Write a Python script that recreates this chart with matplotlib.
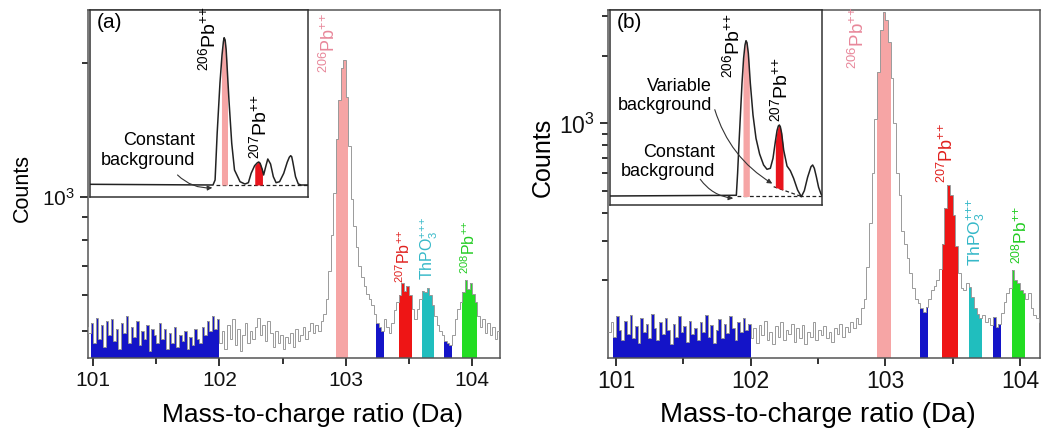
import numpy as np
import matplotlib
matplotlib.use("Agg")
import matplotlib.pyplot as plt
from matplotlib.ticker import FixedLocator, NullFormatter, FixedFormatter

plt.rcParams['font.family'] = ['Liberation Sans', 'DejaVu Sans']
plt.rcParams['mathtext.fontset'] = 'custom'
plt.rcParams['mathtext.rm'] = 'Liberation Sans'
plt.rcParams['mathtext.it'] = 'Liberation Sans:italic'
plt.rcParams['mathtext.bf'] = 'Liberation Sans:bold'

# ---------------- data ----------------
BIN_START = 100.94
BIN_WIDTH = 0.02

counts_a = [
    510, 495, 520, 470, 535, 480, 515, 460, 525, 490,
    530, 475, 505, 455, 520, 495, 540, 470, 510, 485,
    525, 465, 500, 480, 515, 450, 505, 490, 470, 520,
    480, 505, 455, 495, 470, 510, 460, 490, 475, 500,
    455, 485, 465, 505, 480, 470, 510, 490, 525, 500,
    540, 505, 530, 470, 500, 455, 515, 480, 530, 465,
    505, 450, 490, 520, 470, 500, 480, 510, 535, 490,
    515, 475, 525, 495, 460, 500, 470, 490, 455, 485,
    470, 495, 460, 505, 475, 490, 510, 480, 500, 520,
    495, 515, 500, 525, 545, 590, 680, 820, 1020, 1350,
    1650, 1950, 2030, 1680, 1300, 990, 860, 770, 700, 660,
    630, 605, 590, 570, 545, 520, 510, 500, 530, 510,
    495, 520, 555, 580, 600, 640, 615, 630, 600, 560,
    530, 560, 590, 615, 610, 625, 600, 570, 540, 515,
    500, 490, 475, 470, 465, 490, 530, 560, 580, 610,
    650, 620, 640, 605, 580, 540, 510, 530, 495, 520,
    490, 510, 480, 500, 470, 490,
]

counts_b = [
    118, 130, 112, 138, 120, 108, 132, 115, 140, 110,
    125, 105, 135, 118, 128, 110, 142, 122, 108, 130,
    115, 136, 120, 104, 128, 112, 138, 118, 125, 106,
    132, 115, 122, 108, 130, 118, 140, 112, 126, 105,
    120, 134, 110, 128, 116, 138, 122, 108, 130, 118,
    136, 120, 128, 110, 122, 105, 126, 114, 132, 108,
    118, 104, 125, 112, 130, 108, 120, 115, 128, 106,
    122, 110, 126, 104, 118, 112, 130, 108, 120, 114,
    125, 110, 118, 106, 122, 115, 128, 112, 124, 118,
    130, 122, 135, 128, 150, 165, 230, 360, 600, 1050,
    1700, 2600, 3150, 2900, 2300, 1600, 1000, 600, 480, 330,
    290, 250, 215, 185, 165, 158, 150, 145, 152, 165,
    180, 188, 200, 225, 290, 420, 530, 480, 390, 285,
    215, 185, 180, 195, 187, 168, 150, 142, 136, 140,
    130, 135, 126, 137, 124, 128, 143, 160, 175, 185,
    222, 200, 194, 181, 176, 165, 175, 150, 140, 135,
    130, 128, 125, 130, 122, 126,
]

# coloured windows: (start Da, end Da, colour)
BLUE, PINK, RED, CYAN, GREEN = '#1414C8', '#F6A5A5', '#EE1515', '#20BEBE', '#22DD22'
regions_a = [(100.98, 102.00, BLUE), (102.92, 103.02, PINK), (103.24, 103.30, BLUE),
             (103.42, 103.52, RED), (103.60, 103.70, CYAN), (103.78, 103.84, BLUE),
             (103.92, 104.04, GREEN)]
regions_b = [(100.98, 102.00, BLUE), (102.94, 103.04, PINK), (103.26, 103.32, BLUE),
             (103.42, 103.54, RED), (103.62, 103.72, CYAN), (103.80, 103.86, BLUE),
             (103.94, 104.04, GREEN)]

# inset schematic spectra (Da, relative intensity)
inset_a_x = [101.07, 102.84, 102.87, 102.90, 102.94, 102.97, 102.99, 103.00, 103.015, 103.03,
             103.07, 103.11, 103.15, 103.23, 103.30, 103.35, 103.39, 103.44, 103.48, 103.50,
             103.52, 103.55, 103.57, 103.60, 103.63, 103.67, 103.71, 103.75, 103.80, 103.86,
             103.91, 103.94, 103.96, 103.975, 103.99, 104.03, 104.07, 104.11, 104.21]
inset_a_y = [12.7, 12, 17, 63.7, 113.7, 142, 155.3, 159.3, 157, 147,
             97, 53.7, 27, 15.3, 13, 14.3, 23.7, 31.3, 34.3, 35,
             33.7, 27.7, 22, 30.3, 38, 33, 20.3, 14.3, 15.3, 23.7,
             34.7, 39.7, 41.3, 40.3, 35.3, 20.3, 13, 12, 12]
inset_b_x = [100.96, 102.855, 102.874, 102.895, 102.915, 102.94, 102.964, 102.985, 103.0, 103.015,
             103.035, 103.065, 103.105, 103.15, 103.204, 103.264, 103.315, 103.365, 103.405, 103.44,
             103.465, 103.485, 103.50, 103.515, 103.535, 103.565, 103.615, 103.665, 103.714, 103.774,
             103.83, 103.875, 103.924, 103.975, 104.0, 104.025, 104.055, 104.089, 104.125, 104.14]
inset_b_y = [9, 9.7, 31.7, 61.7, 88.3, 121.7, 146.7, 160, 164.3, 162.3,
             151.7, 121.7, 90, 66.7, 51, 40, 35.7, 36.7, 46.7, 63.3,
             74.3, 79, 80, 78.3, 71.7, 55, 39, 34.3, 26.7, 15,
             8.3, 14.3, 27.7, 38.3, 40, 36.7, 28.3, 17.7, 11, 9.7]

x_ticks = [101, 102, 103, 104]

# ---------------- figure ----------------
W, H = 1045, 436
fig = plt.figure(figsize=(W / 100, H / 100), dpi=100)


def fr(x0, y0, x1, y1):
    return [x0 / W, 1 - y1 / H, (x1 - x0) / W, (y1 - y0) / H]


edges = BIN_START + BIN_WIDTH * np.arange(len(counts_a) + 1)


def main_panel(rect, counts, regions, xlim, ylim, minor_y, tfs):
    ax = fig.add_axes(rect)
    ax.set_yscale('log')
    vals = np.array(counts, dtype=float)
    for (s, e, c) in regions:
        m = (edges[:-1] >= s - 1e-9) & (edges[1:] <= e + 1e-9)
        idx = np.where(m)[0]
        ax.stairs(vals[idx], edges[idx[0]:idx[-1] + 2], baseline=1, fill=True,
                  color=c, lw=0, zorder=2)
    ax.stairs(vals, edges, baseline=None, color='#9a9a9a', lw=0.7, zorder=3)
    ax.set_xlim(*xlim)
    ax.set_ylim(*ylim)
    ax.xaxis.set_major_locator(FixedLocator(x_ticks))
    ax.xaxis.set_minor_locator(FixedLocator([100.5, 101.5, 102.5, 103.5]))
    ax.yaxis.set_major_locator(FixedLocator([1000]))
    ax.yaxis.set_major_formatter(FixedFormatter([r'$10^3$']))
    ax.yaxis.set_minor_locator(FixedLocator(minor_y))
    ax.yaxis.set_minor_formatter(NullFormatter())
    ax.tick_params(which='both', direction='out', width=1.3, colors='#222222',
                   labelcolor='#111111', labelsize=tfs, top=False, right=False)
    ax.tick_params(which='major', length=6)
    ax.tick_params(which='minor', length=4)
    ax.tick_params(axis='x', pad=3)
    for sp in ax.spines.values():
        sp.set_color('#555555')
        sp.set_linewidth(1.1)
    return ax


# panel (a)
axa = main_panel(fr(88, 10, 500, 358), counts_a, regions_a, (100.96, 104.22), (434, 2630),
                 [500, 600, 700, 800, 900, 2000], 15)
# panel (b)
axb = main_panel(fr(608, 10, 1040, 358), counts_b, regions_b, (100.94, 104.15), (90, 3200),
                 [200, 300, 400, 500, 600, 700, 800, 900, 2000, 3000], 16.5)

fig.text(312 / W, 1 - 415 / H, 'Mass-to-charge ratio (Da)', fontsize=19, ha='center', va='center')
fig.text(818 / W, 1 - 415 / H, 'Mass-to-charge ratio (Da)', fontsize=20, ha='center', va='center')
fig.text(22 / W, 1 - 188 / H, 'Counts', fontsize=15.5, rotation=90, ha='center', va='center')
fig.text(543 / W, 1 - 157 / H, 'Counts', fontsize=18, rotation=90, ha='center', va='center')

PB206 = r'$^{206}$Pb$^{{+}{+}}$'
PB207 = r'$^{207}$Pb$^{{+}{+}}$'
PB208 = r'$^{208}$Pb$^{{+}{+}}$'
THPO = r'ThPO$_3^{{+}{+}{+}}$'
kw = dict(rotation=90, ha='center', va='bottom', zorder=5)

axa.text(102.87, 1900, PB206, color='#E8879A', fontsize=13, **kw)
axa.text(103.46, 640, PB207, color='#E0201E', fontsize=11.5, **kw)
axa.text(103.66, 650, THPO, color='#35B8C8', fontsize=11.5, **kw)
axa.text(103.97, 670, PB208, color='#22CC22', fontsize=11.5, **kw)

axb.text(102.80, 1750, PB206, color='#E8879A', fontsize=13.5, **kw)
axb.text(103.46, 540, PB207, color='#E0201E', fontsize=13, **kw)
axb.text(103.68, 232, THPO, color='#35B8C8', fontsize=12.5, **kw)
axb.text(104.00, 236, PB208, color='#22CC22', fontsize=12.5, **kw)


# ---------------- insets ----------------
def inset(rect, xs, ys, xlim, ylim, base, pink_rng, red_rng, red_base, tag):
    ax = fig.add_axes(rect, zorder=10)
    ax.set_facecolor('white')
    ax.set_xlim(*xlim)
    ax.set_ylim(*ylim)
    ax.set_xticks([])
    ax.set_yticks([])
    for sp in ax.spines.values():
        sp.set_color('#333333')
        sp.set_linewidth(1.1)
    xs = np.array(xs)
    ys = np.array(ys)
    g = np.linspace(pink_rng[0], pink_rng[1], 40)
    ax.fill_between(g, base, np.interp(g, xs, ys), color=PINK, lw=0, zorder=2)
    g = np.linspace(red_rng[0], red_rng[1], 40)
    ax.fill_between(g, red_base(g), np.interp(g, xs, ys), color='#E8141C', lw=0, zorder=2)
    ax.plot(xs, ys, color='#222222', lw=1.1, zorder=3)
    ax.text(0.03, 0.985, tag, transform=ax.transAxes, fontsize=15, ha='left', va='top')
    return ax


ina = inset(fr(90, 10, 308, 197), inset_a_x, inset_a_y, (101.066, 104.21), (0, 187), 12,
            (102.962, 103.049), (103.442, 103.553), lambda g: 12 + 0 * g, '(a)')
ina.plot([102.88, 104.21], [12, 12], color='#222222', lw=0.9, ls=(0, (3, 2)), zorder=1)
ina.text(102.58, 46.5, 'Constant\nbackground', fontsize=13, ha='right', va='center',
         multialignment='right', linespacing=1.2)
ina.annotate('', xy=(102.87, 9.5), xytext=(102.30, 24),
             arrowprops=dict(arrowstyle='-|>', mutation_scale=7, lw=0.8, color='#333333',
                             connectionstyle='arc3,rad=0.25'))
ina.text(102.77, 158, PB206, fontsize=14, rotation=90, ha='center', va='center')
ina.text(103.51, 38, PB207, fontsize=14, rotation=90, ha='center', va='bottom')

slope = (lambda g: 18.3 + (g - 103.415) * (8.3 - 18.3) / (103.84 - 103.415))
inb = inset(fr(610, 10, 822, 205), inset_b_x, inset_b_y, (100.96, 104.14), (0, 195), 8.5,
            (102.955, 103.05), (103.44, 103.555), slope, '(b)')
inb.plot([102.86, 104.14], [8.5, 8.5], color='#222222', lw=0.9, ls=(0, (3, 2)), zorder=1)
inb.plot([103.415, 103.84], [18.3, 8.3], color='#222222', lw=0.9, ls=(0, (3, 2)), zorder=1)
inb.text(102.49, 109, 'Variable\nbackground', fontsize=13, ha='right', va='center',
         multialignment='right', linespacing=1.2)
inb.text(102.54, 43, 'Constant\nbackground', fontsize=13, ha='right', va='center',
         multialignment='right', linespacing=1.2)
inb.annotate('', xy=(103.43, 20), xytext=(102.52, 98),
             arrowprops=dict(arrowstyle='-|>', mutation_scale=7, lw=0.8, color='#333333',
                             connectionstyle='arc3,rad=0.2'))
inb.annotate('', xy=(102.85, 6.5), xytext=(102.29, 28),
             arrowprops=dict(arrowstyle='-|>', mutation_scale=7, lw=0.8, color='#333333',
                             connectionstyle='arc3,rad=0.25'))
inb.text(102.79, 159, PB206, fontsize=14, rotation=90, ha='center', va='center')
inb.text(103.51, 83, PB207, fontsize=14, rotation=90, ha='center', va='bottom')

fig.savefig('out.png', dpi=100)
